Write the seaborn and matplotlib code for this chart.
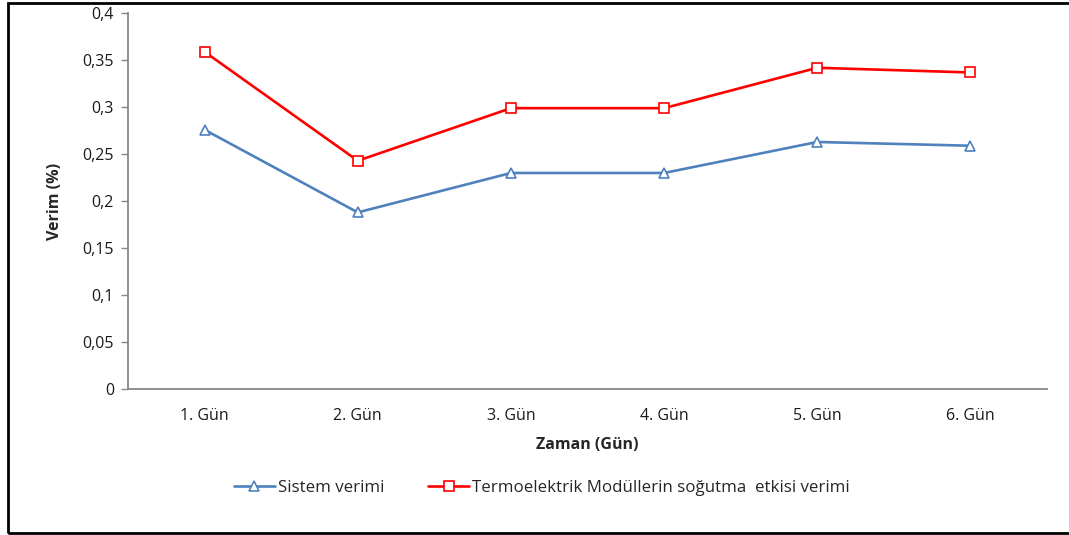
import matplotlib
matplotlib.use("Agg")
import matplotlib.pyplot as plt
from matplotlib.patches import Rectangle
from matplotlib.lines import Line2D
import seaborn as sns
import pandas as pd

days = ["1. Gün", "2. Gün", "3. Gün", "4. Gün", "5. Gün", "6. Gün"]
sistem = [0.276, 0.188, 0.230, 0.230, 0.263, 0.259]
termo = [0.359, 0.243, 0.299, 0.299, 0.342, 0.337]
series_names = ["Sistem verimi", "Termoelektrik Modüllerin soğutma  etkisi verimi"]
y_ticks = [0, 0.05, 0.1, 0.15, 0.2, 0.25, 0.3, 0.35, 0.4]
y_tick_labels = ["0", "0,05", "0,1", "0,15", "0,2", "0,25", "0,3", "0,35", "0,4"]

df = pd.DataFrame({
    "Zaman": days * 2,
    "Verim": sistem + termo,
    "Seri": [series_names[0]] * len(days) + [series_names[1]] * len(days),
})

sns.set_theme(style="white")
plt.rcParams["font.family"] = ["Open Sans", "DejaVu Sans"]

colors = {series_names[0]: "#4F81BD", series_names[1]: "#FF0000"}
markers = {series_names[0]: "^", series_names[1]: "s"}

fig = plt.figure(figsize=(10.69, 5.35), dpi=100)
ax = fig.add_axes([128 / 1069, 1 - 389 / 535, (1047 - 128) / 1069, (389 - 13.3) / 535])

sns.lineplot(data=df, x="Zaman", y="Verim", hue="Seri", style="Seri",
             palette=colors, markers=markers, dashes=False, sort=False,
             linewidth=1.9, markersize=7, legend=False, ax=ax)

for line in ax.lines:
    line.set_markerfacecolor("white")
    line.set_markeredgecolor(line.get_color())
    line.set_markeredgewidth(1.2)

ax.set_xlim(-0.5, len(days) - 0.5)
ax.set_ylim(0, 0.4)
ax.set_yticks(y_ticks)
ax.set_yticklabels(y_tick_labels)
ax.tick_params(axis="y", which="both", left=True, length=5, width=1,
               color="#868686", direction="out", labelsize=11.5,
               labelcolor="#1a1a1a", pad=5)
ax.tick_params(axis="x", bottom=False, labelsize=11.5, labelcolor="#1a1a1a", pad=8)

for side in ["top", "right"]:
    ax.spines[side].set_visible(False)
for side in ["left", "bottom"]:
    ax.spines[side].set_color("#868686")
    ax.spines[side].set_linewidth(1.3)

ax.set_xlabel("Zaman (Gün)", fontsize=11.5, fontweight="bold", labelpad=9)
ax.set_ylabel("Verim (%)", fontsize=11.5, fontweight="bold", labelpad=14)

handles = [
    Line2D([], [], color=colors[n], marker=markers[n], markersize=7,
           markerfacecolor="white", markeredgecolor=colors[n],
           markeredgewidth=1.2, linewidth=1.9)
    for n in series_names
]
fig.legend(handles, series_names, loc="center", bbox_to_anchor=(542 / 1069, 1 - 488 / 535),
           ncol=2, frameon=False, fontsize=12.2, handlelength=2.4,
           handletextpad=0.2, columnspacing=2.6)

# outer frame around the chart
fig.add_artist(Rectangle((8 / 1069, 2.5 / 535), 1.1, 530 / 535,
                         transform=fig.transFigure, fill=False,
                         edgecolor="black", linewidth=2, clip_on=False))

fig.savefig("out.png", dpi=100)
